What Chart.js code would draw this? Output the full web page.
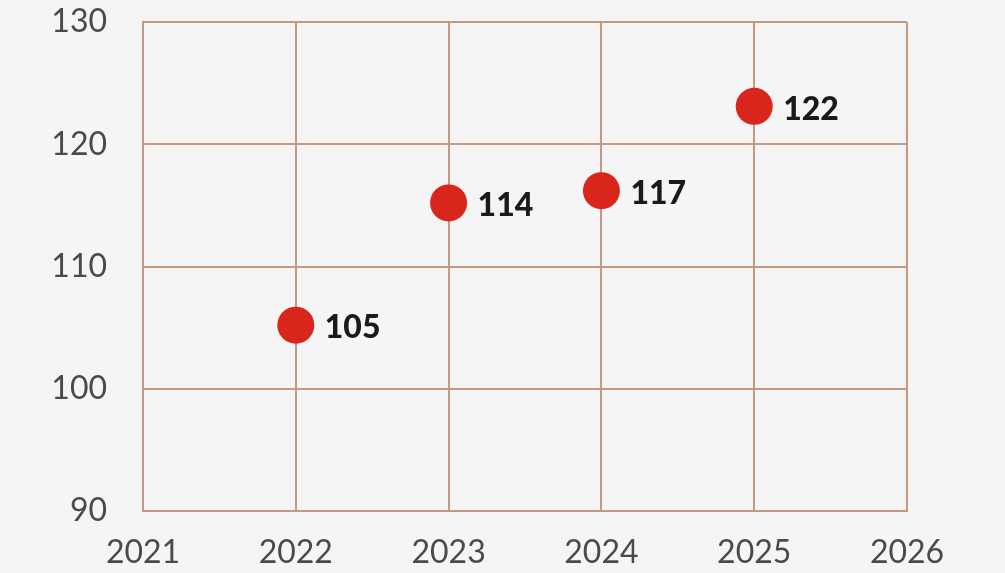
<!DOCTYPE html>
<html>
<head>
<meta charset="utf-8">
<script src="https://cdn.jsdelivr.net/npm/chart.js@4/dist/chart.umd.min.js"></script>
<style>
  html, body { margin: 0; padding: 0; background: #f5f5f5; }
  canvas { display: block; }
</style>
</head>
<body>
<canvas id="scatter-chart" width="1005" height="573"></canvas>
<script>
// values
const years = [2022, 2023, 2024, 2025];
const values = [105.2, 115.2, 116.2, 123.1];
const pointLabels = ["105", "114", "117", "122"];
const xTicks = [2021, 2022, 2023, 2024, 2025, 2026];
const yTicks = [90, 100, 110, 120, 130];

const gridColor = '#c09a82';

// draw the bold value next to each point
const valueLabels = {
    id: 'valueLabels',
    afterDatasetsDraw(chart) {
        const ctx = chart.ctx;
        const meta = chart.getDatasetMeta(0);
        ctx.save();
        ctx.font = '900 32px Lato, "Open Sans", sans-serif';
        ctx.fillStyle = '#1a1a1a';
        ctx.textAlign = 'left';
        ctx.textBaseline = 'middle';
        meta.data.forEach((pt, i) => {
            ctx.fillText(pointLabels[i], pt.x + 29, pt.y + 3);
        });
        ctx.restore();
    }
};

new Chart(document.getElementById("scatter-chart"), {
    type: 'scatter',
    data: {
        datasets: [{
            label: "Values",
            data: years.map((y, i) => ({ x: y, y: values[i] })),
            backgroundColor: '#d9261c',
            borderWidth: 0,
            pointRadius: 18.5,
            pointHoverRadius: 18.5
        }]
    },
    options: {
        responsive: false,
        animation: false,
        layout: {
            padding: { top: 22, right: 98, bottom: 0, left: 0 }
        },
        plugins: {
            legend: { display: false },
            tooltip: { enabled: false }
        },
        scales: {
            x: {
                type: 'linear',
                min: xTicks[0],
                max: xTicks[xTicks.length - 1],
                afterBuildTicks: s => { s.ticks = xTicks.map(v => ({ value: v })); },
                afterFit: s => { s.height = 62; s.paddingLeft = 0; s.paddingRight = 0; },
                grid: { color: gridColor, lineWidth: 2, drawTicks: false },
                border: { color: gridColor, width: 2 },
                ticks: {
                    padding: 22,
                    color: '#4a4a4a',
                    font: { family: 'Lato, "Open Sans", sans-serif', size: 32 },
                    callback: v => String(v)
                }
            },
            y: {
                min: yTicks[0],
                max: yTicks[yTicks.length - 1],
                afterBuildTicks: s => { s.ticks = yTicks.map(v => ({ value: v })); },
                afterFit: s => { s.width = 143; s.paddingTop = 0; s.paddingBottom = 0; },
                grid: { color: gridColor, lineWidth: 2, drawTicks: false },
                border: { color: gridColor, width: 2 },
                ticks: {
                    padding: 36,
                    color: '#4a4a4a',
                    font: { family: 'Lato, "Open Sans", sans-serif', size: 32 },
                    callback: v => String(v)
                }
            }
        }
    },
    plugins: [valueLabels]
});
</script>
</body>
</html>
